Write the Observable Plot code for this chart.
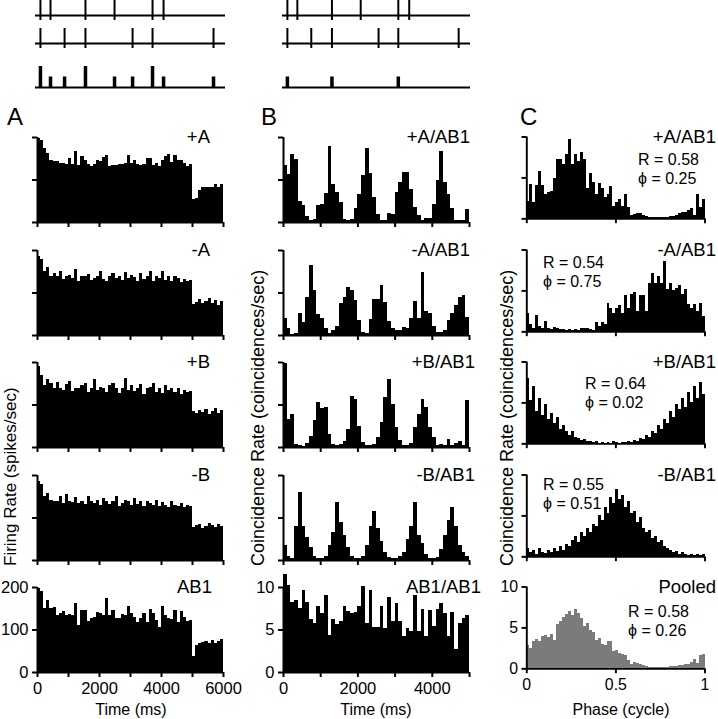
<!DOCTYPE html>
<html><head><meta charset="utf-8">
<script src="https://cdn.jsdelivr.net/npm/d3@7"></script>
<script src="https://cdn.jsdelivr.net/npm/@observablehq/plot@0.6"></script>
<style>
body{margin:0;background:#fff;}
#fig{position:relative;width:718px;height:719px;overflow:hidden;background:#fff;}
#fig .p{position:absolute;}
</style></head><body><div id="fig"></div>
<script>
// ---------- DATA ----------
// spike rasters (time in % of sweep)
const spikesTrain1 = [2.6, 7.9, 26.3, 41.6, 61.6, 67.4];
const spikesTrain2 = [2.6, 15.3, 26.3, 51.1, 61.6, 93.7];

// Panel A: firing rate (spikes/sec), 100-ms bins, 0-6000 ms
const A_binMs = 100;
const A_plusA = [198,192,175,163,145,144,143,140,139,137,150,137,166,133,155,145,137,132,136,147,144,153,158,132,135,134,137,137,138,158,140,146,137,135,137,151,150,133,138,132,146,156,160,142,157,147,145,140,132,137,55,57,76,82,82,82,82,90,83,90];
const A_minusA = [185,180,150,160,140,145,138,150,132,140,142,135,155,128,140,138,143,130,135,140,150,132,128,138,145,135,140,130,148,135,142,136,128,145,132,138,150,126,140,135,150,130,138,128,140,135,125,132,128,130,72,78,85,76,80,88,75,82,70,80];
const A_plusB = [190,170,145,160,150,138,152,140,135,148,155,132,140,138,145,150,130,138,160,135,142,138,130,145,150,138,128,140,162,135,145,132,140,148,125,138,142,150,130,140,128,145,135,140,130,138,125,135,130,132,85,80,88,82,90,78,85,92,80,88];
const A_minusB = [185,178,150,158,142,140,138,150,135,155,140,136,148,135,140,132,150,138,135,142,130,145,138,132,140,150,128,135,142,138,130,145,132,140,128,138,135,130,142,128,136,130,125,138,130,128,135,125,130,128,78,82,85,75,80,88,82,78,85,80];
const A_AB1 = [198,190,150,170,150,152,133,140,143,135,136,134,163,110,147,145,120,128,130,142,140,133,173,135,147,126,128,136,133,156,140,130,117,128,140,117,148,140,122,106,156,135,127,125,145,118,143,130,120,122,38,63,68,70,72,68,75,68,73,78];

// Panel B: coincidence rate, 100-ms bins, 0-5000 ms
const B_binMs = 100;
const B_plusA = [1.33,1.14,1.6,1.49,0.49,0.39,0.14,0.04,0.06,0.39,0.43,0.69,1.8,0.9,0.7,0.47,0.08,0.04,0.08,0.34,0.67,1.1,1.73,1.15,0.59,0.2,0.05,0.04,0.22,0.2,0.7,0.93,1.18,1.18,0.78,0.35,0.17,0.04,0.1,0.1,0.43,1.0,1.66,0.94,0.65,0.34,0.05,0.04,0.04,0.3];
const B_minusA = [0.41,0.16,0.02,0.04,0.51,0.31,0.9,1.65,1.06,0.49,0.39,0.16,0.04,0.12,0.22,0.75,0.9,1.14,1.06,0.82,0.35,0.08,0.04,0.38,0.85,0.85,1.18,0.77,0.33,0.16,0.12,0.12,0.2,0.16,0.39,0.8,0.41,1.49,0.56,0.51,0.22,0.08,0.06,0.12,0.35,0.51,0.71,0.9,0.94,0.43];
const B_plusB = [1.98,0.67,0.78,0.06,0.04,0.02,0.09,0.25,0.63,1.07,0.92,0.94,0.31,0.08,0.04,0.06,0.14,0.43,1.19,1.14,0.49,0.12,0.04,0.04,0.08,0.24,0.59,1.18,1.61,1.02,0.47,0.16,0.04,0.04,0.09,0.47,0.78,1.14,0.94,0.47,0.24,0.04,0.08,0.04,0.2,0.04,0.1,0.15,0.05,1.1];
const B_minusB = [0.35,0.1,0.05,0.8,1.6,0.8,0.55,0.3,0.1,0.05,0.05,0.1,0.35,0.65,1.37,0.9,0.6,0.3,0.1,0.05,0.04,0.1,0.35,0.8,1.16,0.75,0.45,0.2,0.08,0.04,0.05,0.1,0.2,0.5,0.8,1.37,0.6,0.4,0.15,0.05,0.05,0.08,0.25,0.6,0.95,1.25,0.8,0.35,0.2,0.1];
const B_AB1 = [11.55,10.27,8.26,8.45,7.56,9.69,8.26,6.2,5.81,7.75,6.98,9.1,4.34,6.2,5.62,6.0,7.75,7.17,6.98,7.09,7.75,10.16,5.81,9.69,5.3,5.3,7.75,5.16,8.8,6.0,8.06,6.0,4.26,5.23,4.77,9.1,4.77,7.36,4.26,7.29,5.43,7.36,8.06,6.98,4.26,7.09,2.71,5.81,6.32,6.7];

// Panel C: coincidence rate vs phase, 60 bins over one cycle
const C_nBins = 60;
const C_plusA = [0.43,0.84,0.39,0.82,1.15,0.82,0.6,0.65,0.67,0.98,1.44,1.44,1.33,1.57,1.94,1.33,1.57,1.41,1.62,1.45,0.75,1.1,0.9,0.6,0.86,0.75,0.53,0.59,0.78,0.29,0.39,0.47,0.31,0.59,0.27,0.08,0.1,0.13,0.13,0.09,0.05,0.04,0.03,0.03,0.03,0.03,0.04,0.04,0.05,0.05,0.08,0.13,0.15,0.16,0.2,0.26,0.08,0.59,0.27,0.47];
const C_minusA = [0.46,0.17,0.08,0.41,0.13,0.07,0.25,0.07,0.05,0.11,0.09,0.06,0.05,0.04,0.05,0.04,0.05,0.04,0.07,0.07,0.07,0.06,0.03,0.23,0.13,0.23,0.17,0.7,0.56,0.45,0.56,0.64,0.45,0.88,0.56,0.92,0.96,0.49,0.88,0.89,0.5,1.19,1.43,1.19,1.35,1.19,1.73,1.04,1.19,1.01,1.07,1.13,0.92,1.04,0.66,0.56,0.68,0.5,0.7,0.37];
const C_plusB = [1.6,1.05,1.4,0.8,1.1,0.7,0.95,0.6,0.75,0.5,0.65,0.35,0.45,0.3,0.2,0.3,0.15,0.12,0.08,0.1,0.05,0.06,0.03,0.05,0.02,0.04,0.02,0.03,0.02,0.05,0.03,0.02,0.04,0.03,0.05,0.04,0.08,0.06,0.12,0.1,0.2,0.15,0.3,0.25,0.45,0.35,0.6,0.5,0.8,0.65,0.95,0.85,1.1,0.9,1.25,1.0,1.4,1.1,1.5,1.2];
const C_minusB = [0.2,0.1,0.15,0.05,0.2,0.1,0.08,0.15,0.1,0.2,0.12,0.25,0.15,0.3,0.25,0.4,0.5,0.35,0.6,0.5,0.7,0.6,0.8,0.75,1.0,0.9,1.2,1.05,1.45,1.3,1.65,1.4,1.5,1.2,1.35,1.05,1.1,0.85,0.95,0.7,0.6,0.65,0.45,0.5,0.35,0.4,0.25,0.2,0.15,0.1,0.12,0.06,0.1,0.05,0.04,0.06,0.03,0.05,0.04,0.06];
const C_pooled = [2.9,2.5,3.3,3.6,3.3,3.9,4.1,3.8,4.2,3.5,5.4,5.8,6.3,6.7,7.0,6.5,7.2,6.8,6.2,5.2,5.6,4.7,4.4,3.5,3.7,3.0,2.8,3.4,3.4,2.1,2.2,1.9,1.8,1.6,1.0,0.5,0.8,0.6,0.5,0.4,0.3,0.2,0.2,0.15,0.15,0.2,0.2,0.2,0.25,0.3,0.3,0.35,0.4,0.5,0.5,0.8,1.2,0.7,1.6,1.8];

// labels
const rowLabelsA = ["+A", "-A", "+B", "-B", "AB1"];
const rowLabelsB = ["+A/AB1", "-A/AB1", "+B/AB1", "-B/AB1", "AB1/AB1"];
const rowLabelsC = ["+A/AB1", "-A/AB1", "+B/AB1", "-B/AB1", "Pooled"];
const statR = ["0.58", "0.54", "0.64", "0.55", "0.58"];
const statPhi = ["0.25", "0.75", "0.02", "0.51", "0.26"];
const A_xTicks = [0,1000,2000,3000,4000,5000,6000], A_xLabels = [0,2000,4000,6000];
const B_xTicks = [0,1000,2000,3000,4000,5000], B_xLabels = [0,2000,4000];
const C_xTicks = [0,0.5,1], C_xLabels = [0,0.5,1];
const A_yTicks = [0,100,200];
const B_yTicksBottom = [0,5,10];
const relTicks = [0,1,2];

// ---------- LAYOUT ----------
const FONT = '"Liberation Sans", Arial, Helvetica, sans-serif';
const fig = document.getElementById("fig");
function place(el, left, top) {
  const d = document.createElement("div");
  d.className = "p"; d.style.left = left + "px"; d.style.top = top + "px";
  d.appendChild(el); fig.appendChild(d);
}
const rowTop = [137, 249.5, 362, 474.5, 587];
const rowH = 85;
const ML = 46, MR = 14, MT = 14, MB = 34;

function histPanel({values, binW, xMax, xTicks, xLabels, yMax, yTicks, yLabels, px0, px1, top, fill = "#000"}) {
  const data = values.map((v, i) => ({x1: i * binW, x2: (i + 1) * binW, v}));
  const fmt = (list) => (d) => list && list.includes(d) ? String(d) : "";
  const plot = Plot.plot({
    width: ML + (px1 - px0) + MR,
    height: MT + rowH + MB,
    marginLeft: ML, marginRight: MR, marginTop: MT, marginBottom: MB,
    style: {background: "transparent", overflow: "visible", fontSize: "16.5px", fontFamily: FONT, color: "#000"},
    x: {domain: [0, xMax], label: null},
    y: {domain: [0, yMax], label: null},
    marks: [
      Plot.rectY(data, {x1: "x1", x2: "x2", y: "v", fill, shapeRendering: "crispEdges"}),
      Plot.ruleY([{y: 0, x1: 0, x2: xMax}], {y: "y", x1: "x1", x2: "x2", strokeWidth: 2}),
      Plot.ruleX([{x: 0, y1: 0, y2: yMax}], {x: "x", y1: "y1", y2: "y2", strokeWidth: 2}),
      Plot.axisX({ticks: xTicks, tickSize: 5, tickPadding: 5, strokeWidth: 2, tickFormat: fmt(xLabels), label: null, fontSize: 16.5}),
      Plot.axisY({ticks: yTicks, tickSize: 5, tickPadding: 4, strokeWidth: 2, tickFormat: fmt(yLabels), label: null, fontSize: 16.5})
    ]
  });
  place(plot, px0 - ML, top - MT);
}

const colA = {px0: 37, px1: 223}, colB = {px0: 283, px1: 469}, colC = {px0: 528, px1: 713};
const A_series = [A_plusA, A_minusA, A_plusB, A_minusB, A_AB1];
const B_series = [B_plusA, B_minusA, B_plusB, B_minusB, B_AB1];
const C_series = [C_plusA, C_minusA, C_plusB, C_minusB, C_pooled];

A_series.forEach((vals, r) => histPanel({values: vals, binW: A_binMs, xMax: 6000, xTicks: A_xTicks,
  xLabels: r === 4 ? A_xLabels : null, yMax: 200, yTicks: A_yTicks, yLabels: r === 4 ? A_yTicks : null,
  ...colA, top: rowTop[r]}));
B_series.forEach((vals, r) => histPanel({values: vals, binW: B_binMs, xMax: 5000, xTicks: B_xTicks,
  xLabels: r === 4 ? B_xLabels : null, yMax: r === 4 ? 10 : 2, yTicks: r === 4 ? B_yTicksBottom : relTicks,
  yLabels: r === 4 ? B_yTicksBottom : null, ...colB, top: rowTop[r]}));
C_series.forEach((vals, r) => histPanel({values: vals, binW: 1 / C_nBins, xMax: 1, xTicks: C_xTicks,
  xLabels: r === 4 ? C_xLabels : null, yMax: r === 4 ? 10 : 2, yTicks: r === 4 ? B_yTicksBottom : relTicks,
  yLabels: r === 4 ? B_yTicksBottom : null, ...colC, top: rowTop[r], fill: r === 4 ? "#7b7b7b" : "#000"}));

// ---------- RASTERS ----------
const coincCounts = (() => {
  const m = new Map();
  for (const t of spikesTrain1.concat(spikesTrain2)) m.set(t, (m.get(t) || 0) + 1);
  return Array.from(m, ([t, n]) => ({t, n}));
})();
const sumBars = coincCounts;                                        // A: sum of both trains
const prodBars = coincCounts.filter(d => d.n === 2).map(d => ({t: d.t, n: 1})); // B: coincidences only
const PAD = 4;
function spikeRow(times, x0, x1, tickTop) {
  const p = Plot.plot({
    width: (x1 - x0) + 2 * PAD, height: 20 + 2 * PAD,
    marginLeft: PAD, marginRight: PAD, marginTop: PAD, marginBottom: PAD,
    style: {background: "transparent", overflow: "visible"},
    x: {domain: [0, 100], axis: null}, y: {domain: [-1, 3], axis: null},
    marks: [
      Plot.ruleY([0], {strokeWidth: 2}),
      Plot.ruleX(times, {x: d => d, y1: () => -1, y2: () => 3, strokeWidth: 2})
    ]
  });
  place(p, x0 - PAD, tickTop - PAD);
}
function barRow(bars, x0, x1, barTop) {
  const p = Plot.plot({
    width: (x1 - x0) + 2 * PAD, height: 21 + 2 * PAD,
    marginLeft: PAD, marginRight: PAD, marginTop: PAD, marginBottom: PAD,
    style: {background: "transparent", overflow: "visible"},
    x: {domain: [0, 100], axis: null}, y: {domain: [0, 2], axis: null},
    marks: [
      Plot.ruleY([0], {strokeWidth: 2}),
      Plot.ruleX(bars, {x: "t", y1: () => 0, y2: "n", strokeWidth: 3.5})
    ]
  });
  place(p, x0 - PAD, barTop - PAD);
}
spikeRow(spikesTrain1, 35, 225, 0);
spikeRow(spikesTrain2, 35, 225, 28);
barRow(sumBars, 35, 225, 66);
spikeRow(spikesTrain1, 282, 470, 0);
spikeRow(spikesTrain2, 282, 470, 28);
barRow(prodBars, 282, 470, 66);

// ---------- TEXT OVERLAY ----------
const svg = d3.select(fig).append("svg").attr("class", "p")
  .attr("width", 718).attr("height", 719).style("left", "0px").style("top", "0px")
  .style("font-family", FONT).style("pointer-events", "none");
svg.append("text").attr("x", 7).attr("y", 125).attr("font-size", 24).text("A");
svg.append("text").attr("x", 261).attr("y", 125).attr("font-size", 24).text("B");
svg.append("text").attr("x", 520).attr("y", 125).attr("font-size", 24).text("C");
const labA_x = [210, 210, 210, 210, 212];
const labB_x = [470, 470, 475, 475, 481];
rowLabelsA.forEach((t, r) => svg.append("text").attr("x", labA_x[r]).attr("y", rowTop[r] + 6).attr("text-anchor", "end").attr("font-size", 18.5).text(t));
rowLabelsB.forEach((t, r) => svg.append("text").attr("x", labB_x[r]).attr("y", rowTop[r] + 6).attr("text-anchor", "end").attr("font-size", 18.5).text(t));
rowLabelsC.forEach((t, r) => svg.append("text").attr("x", 716).attr("y", rowTop[r] + 6).attr("text-anchor", "end").attr("font-size", 18.5).text(t));
const statX = [638, 543, 585, 543, 628];
const statDy = [28, 18, 27, 15, 30];
statR.forEach((v, r) => {
  svg.append("text").attr("x", statX[r]).attr("y", rowTop[r] + statDy[r]).attr("font-size", 16).text("R = " + v);
  svg.append("text").attr("x", statX[r]).attr("y", rowTop[r] + statDy[r] + 19).attr("font-size", 16).text("\u03D5 = " + statPhi[r]);
});
// axis titles
const ytitle = (x, t, fs) => svg.append("text").attr("transform", `translate(${x},566) rotate(-90)`).attr("font-size", fs).text(t);
ytitle(16, "Firing Rate (spikes/sec)", 17);
ytitle(264, "Coincidence Rate (coincidences/sec)", 18);
ytitle(513, "Coincidence Rate (coincidences/sec)", 18);
svg.append("text").attr("x", 131).attr("y", 715).attr("text-anchor", "middle").attr("font-size", 16).text("Time (ms)");
svg.append("text").attr("x", 376).attr("y", 715).attr("text-anchor", "middle").attr("font-size", 16).text("Time (ms)");
svg.append("text").attr("x", 621).attr("y", 715).attr("text-anchor", "middle").attr("font-size", 16).text("Phase (cycle)");
</script></body></html>
